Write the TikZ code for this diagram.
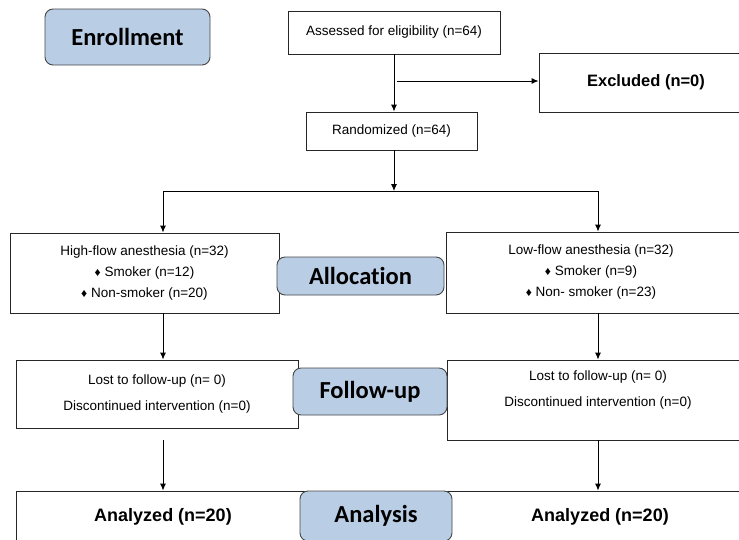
\documentclass[tikz,border=0pt]{standalone}
\usepackage{fontspec}
\setmainfont{Liberation Sans}
\newfontfamily\stagefont{Carlito}[Ligatures=NoCommon]
\usetikzlibrary{positioning,arrows.meta}
\definecolor{stageblue}{RGB}{185,205,229}
\definecolor{stageedge}{RGB}{70,70,70}
\newcommand{\dmd}{\raisebox{0.5pt}{\fontsize{12}{12}\selectfont\symbol{"2666}}}

\begin{document}
\begin{tikzpicture}[x=1pt,y=-1pt,>={Latex[length=7pt,width=6pt]},line width=0.9pt,
  font=\fontsize{13.5}{21}\selectfont,
  box/.style={draw=black!85,rectangle,inner sep=0pt,align=center},
  stage/.style={draw=stageedge,fill=stageblue,rounded corners=8pt,inner sep=0pt,
    font=\stagefont\bfseries\fontsize{24.5}{28}\selectfont},
  txt/.style={align=center,inner sep=0pt},
  big/.style={font=\bfseries\fontsize{18}{22}\selectfont}]
\useasboundingbox (0,0) rectangle (739,539);
\clip (0,0) rectangle (739,539);

% boxes
\node[box,minimum width=212,minimum height=43] (assess) at (394,32.5) {Assessed for eligibility (n=64)};
\node[box,minimum width=214,minimum height=59,font=\bfseries\fontsize{16.5}{20}\selectfont] (excl) at (646,82.5) {Excluded (n=0)};
\node[box,minimum width=171,minimum height=38] (rand) at (391.5,131) {Randomized (n=64)};
\node[box,minimum width=269,minimum height=80] (high) at (144.5,273)
  {High-flow anesthesia (n=32)\\\dmd{} Smoker (n=12)\\\dmd{} Non-smoker (n=20)};
\node[box,minimum width=312,minimum height=81] (low) at (602,272.5) {};
\node[txt] (lowtxt) at (591,272)
  {Low-flow anesthesia (n=32)\\\dmd{} Smoker (n=9)\\\dmd{} Non- smoker (n=23)};
\node[box,minimum width=282,minimum height=68] (fupl) at (157,394)
  {Lost to follow-up (n= 0)\\[5pt]Discontinued intervention (n=0)};
\node[box,minimum width=313,minimum height=80] (fupr) at (603.5,400) {};
\node[txt] (fuprtxt) at (598,390)
  {Lost to follow-up (n= 0)\\[5pt]Discontinued intervention (n=0)};
\node[box,minimum width=303,minimum height=70] (anl) at (167.5,526) {};
\node[txt,big] (anltxt) at (163,517) {Analyzed (n=20)};
\node[box,minimum width=313,minimum height=70] (anr) at (603.5,526) {};
\node[txt,big] (anrtxt) at (600,517) {Analyzed (n=20)};

% stage labels
\node[stage,minimum width=165,minimum height=56] (enrol) at (127.5,37) {Enrollment};
\node[stage,minimum width=167,minimum height=38] (alloc) at (360.5,276) {Allocation};
\node[stage,minimum width=154,minimum height=47] (follow) at (370,391.5) {Follow-up};
\node[stage,minimum width=152,minimum height=50] (analysis) at (376,516) {Analysis};

% connectors
\coordinate (split) at (394,191);
\coordinate (lcol) at (163,191);
\coordinate (rcol) at (598,191);
\draw[->] (assess.south) -- (assess.south |- rand.north);
\draw[->,shorten <=3pt] ([yshift=1.5]assess.south |- excl.west) -- ([yshift=1.5]excl.west);
\draw[->] (rand.south -| split) -- (split);
\draw (lcol) -- (rcol);
\draw[->] (lcol) -- (lcol |- high.north);
\draw[->] (rcol) -- (rcol |- low.north);
\draw[->] (lcol |- high.south) -- (lcol |- fupl.north);
\draw[->] (rcol |- low.south) -- (rcol |- fupr.north);
\draw[->,shorten <=12pt] (lcol |- fupl.south) -- (lcol |- anl.north);
\draw[->] (rcol |- fupr.south) -- (rcol |- anr.north);
\end{tikzpicture}
\end{document}
